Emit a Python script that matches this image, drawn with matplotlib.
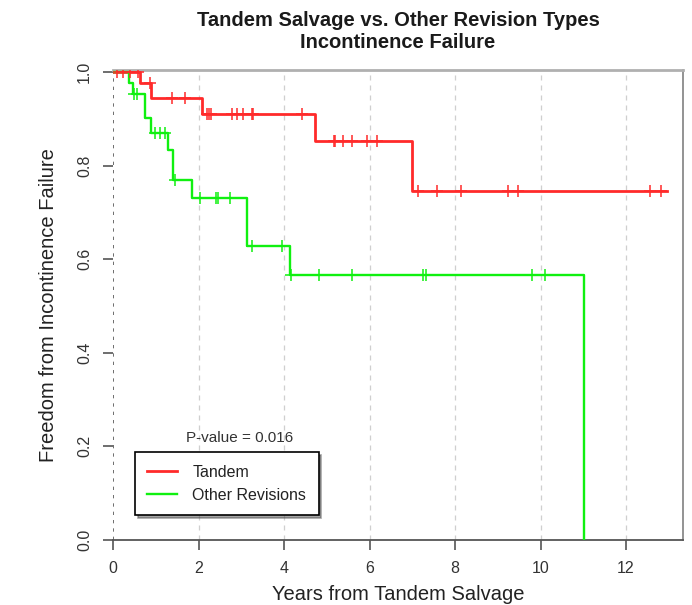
import numpy as np
import matplotlib
matplotlib.use("Agg")
import matplotlib.pyplot as plt

plt.rcParams["font.family"] = ["Liberation Sans", "DejaVu Sans"]

# Kaplan-Meier step curves: event times and survival level after each step
tandem_times = [0.0, 0.63, 0.90, 2.08, 4.73, 6.99, 12.95]
tandem_surv = [1.0, 0.976, 0.945, 0.910, 0.853, 0.746, 0.746]
tandem_censor = [0.10, 0.24, 0.40, 0.58, 0.87, 1.37, 1.68, 2.20, 2.25, 2.30,
                 2.78, 2.89, 3.05, 3.24, 3.28, 4.41, 5.16, 5.19, 5.39, 5.58,
                 5.93, 6.17, 7.14, 7.57, 8.14, 9.25, 9.48, 12.56, 12.83]

other_times = [0.0, 0.38, 0.47, 0.75, 0.88, 1.28, 1.40, 1.84, 3.13, 4.14, 11.02]
other_surv = [1.0, 0.977, 0.954, 0.902, 0.869, 0.833, 0.769, 0.731, 0.629, 0.566, 0.0]
other_censor = [0.50, 0.56, 0.98, 1.10, 1.22, 1.45, 2.04, 2.41, 2.46, 2.74,
                3.24, 3.95, 4.17, 4.82, 5.58, 7.26, 7.32, 9.79, 10.10]

group_labels = ["Tandem", "Other Revisions"]
group_colors = ["#ff2a2a", "#10f010"]
p_value_text = "P-value = 0.016"
x_ticks = [0, 2, 4, 6, 8, 10, 12]
y_ticks = [0.0, 0.2, 0.4, 0.6, 0.8, 1.0]


def level_at(times, surv, t):
    idx = np.searchsorted(np.asarray(times), t, side="right") - 1
    return np.asarray(surv)[idx]


fig = plt.figure(figsize=(6.92, 6.05), dpi=100)
ax = fig.add_axes([113 / 692, 1 - 540 / 605, 570 / 692, 470 / 605])
ax.set_xlim(0, 570 / 42.75)
ax.set_ylim(0, 470 / 468)

# vertical guide lines
for xv in x_ticks[1:]:
    ax.axvline(xv, color="#cfcfcf", lw=0.9, ls=(0, (4, 4)), zorder=1)
ax.axvline(0, color="#555555", lw=1.2, ls=(0, (2, 3)), zorder=2)

handles = []
for times, surv, cens, col, lab, lw in [
    (tandem_times, tandem_surv, tandem_censor, group_colors[0], group_labels[0], 2.0),
    (other_times, other_surv, other_censor, group_colors[1], group_labels[1], 1.7),
]:
    h, = ax.step(times, surv, where="post", color=col, lw=lw, zorder=3, label=lab)
    handles.append(h)
    cy = [level_at(times, surv, c) for c in cens]
    ax.plot(cens, cy, ls="none", marker="+", ms=8, mew=1.1, color=col, zorder=4)

ax.set_xticks(x_ticks)
ax.set_yticks(y_ticks)
ax.set_xticklabels([str(v) for v in x_ticks])
ax.set_yticklabels([f"{v:.1f}" for v in y_ticks])
ax.tick_params(axis="both", length=7, width=1.2, color="#555555",
               labelsize=11.5, labelcolor="#333333", pad=8)
ax.tick_params(axis="y", labelrotation=90)
for lbl in ax.get_yticklabels():
    lbl.set_verticalalignment("center")

ax.spines["left"].set_visible(False)
ax.spines["top"].set_color("#b0b0b0")
ax.spines["top"].set_linewidth(2.0)
ax.spines["right"].set_color("#8a8a8a")
ax.spines["right"].set_linewidth(1.3)
ax.spines["bottom"].set_color("#555555")
ax.spines["bottom"].set_linewidth(1.3)

ax.set_ylabel("Freedom from Incontinence Failure", fontsize=14.5,
              color="#222222", labelpad=14)
fig.text(398 / 692, 1 - 600 / 605, "Years from Tandem Salvage", ha="center",
         va="baseline", fontsize=14.5, color="#222222")

fig.text(398 / 692, 1 - 31 / 605,
         "Tandem Salvage vs. Other Revision Types\nIncontinence Failure",
         ha="center", va="center", fontsize=14.5, fontweight="bold",
         color="#1a1a1a", linespacing=1.2)

ax.text((240 - 113) / 42.75, (540 - 438) / 468, p_value_text, ha="center",
        va="center", fontsize=11, color="#333333")

leg = ax.legend(handles=handles, loc="lower left",
                bbox_to_anchor=((135 - 113) / 570, (540 - 515) / 470),
                borderaxespad=0.0,
                fontsize=11.5, frameon=True, fancybox=False, shadow=True,
                edgecolor="black", framealpha=1, handlelength=1.85,
                handletextpad=0.95, borderpad=0.78, labelspacing=0.5)
leg.get_frame().set_linewidth(1.2)
for t in leg.get_texts():
    t.set_color("#222222")

fig.savefig("out.png", dpi=100)
